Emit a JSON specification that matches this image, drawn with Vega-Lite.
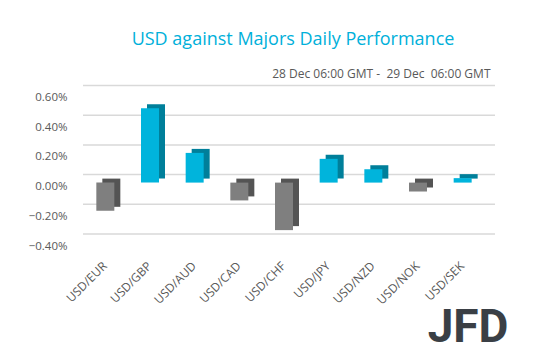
{
  "$schema": "https://vega.github.io/schema/vega-lite/v6.json",
  "autosize": "none",
  "width": 402,
  "height": 148.5,
  "padding": {"left": 83, "top": 93.5, "right": 53, "bottom": 109},
  "background": "white",
  "config": {"view": {"stroke": null}, "font": "Open Sans", "axis": {"labelOverlap": false}},
  "title": {
    "text": "USD against Majors Daily Performance",
    "anchor": "middle",
    "dx": 9,
    "color": "#00B0DA",
    "fontSize": 18,
    "fontWeight": "normal",
    "font": "Open Sans",
    "baseline": "alphabetic",
    "offset": 5
  },
  "datasets": {
    "fx": [
      {"pair": "USD/EUR", "change": -0.0019},
      {"pair": "USD/GBP", "change": 0.005},
      {"pair": "USD/AUD", "change": 0.002},
      {"pair": "USD/CAD", "change": -0.0012},
      {"pair": "USD/CHF", "change": -0.0032},
      {"pair": "USD/JPY", "change": 0.0016},
      {"pair": "USD/NZD", "change": 0.0009},
      {"pair": "USD/NOK", "change": -0.0006},
      {"pair": "USD/SEK", "change": 0.0003}
    ],
    "grid": [
      {"level": -0.004},
      {"level": -0.002},
      {"level": 0},
      {"level": 0.002},
      {"level": 0.004},
      {"level": 0.006}
    ]
  },
  "layer": [
    {
      "data": {"name": "grid"},
      "mark": {"type": "rule", "xOffset": 10, "x2Offset": 10, "yOffset": -8, "color": "#d9d9d9", "strokeWidth": 1.5},
      "encoding": {
        "y": {
          "field": "level", "type": "quantitative", "scale": {"domain": [-0.004, 0.006], "nice": false, "zero": false},
          "axis": {
            "values": [-0.004, -0.002, 0, 0.002, 0.004, 0.006], "format": ".2%", "labelColor": "#595959",
            "labelFontSize": 11.5, "labelPadding": 16, "labelOffset": 4, "labelOverlap": false, "ticks": false, "domain": false,
            "grid": false, "title": null
          }
        }
      }
    },
    {
      "data": {"name": "fx"},
      "mark": {"type": "bar", "size": 18, "xOffset": 6, "yOffset": -4, "y2Offset": -4},
      "encoding": {
        "x": {
          "field": "pair", "type": "nominal", "sort": null,
          "axis": {
            "orient": "top", "labels": false, "ticks": false, "domain": false, "grid": false,
            "title": "28 Dec 06:00 GMT -\u00a0 29 Dec\u00a0 06:00 GMT",
            "titleFont": "Open Sans", "titleFontSize": 12, "titleFontWeight": "normal", "titleColor": "#595959",
            "titleAlign": "right", "titleBaseline": "alphabetic", "titleX": 407, "titleY": -16
          }
        },
        "y": {
          "field": "change", "type": "quantitative",
          "axis": {
            "values": [-0.004, -0.002, 0, 0.002, 0.004, 0.006], "format": ".2%", "labelColor": "#595959",
            "labelFontSize": 11.5, "labelPadding": 16, "labelOffset": 4, "labelOverlap": false, "ticks": false, "domain": false,
            "grid": false, "title": null
          }
        },
        "color": {"condition": {"test": "datum.change > 0", "value": "#007F9A"}, "value": "#545454"}
      }
    },
    {
      "data": {"name": "fx"},
      "mark": {"type": "bar", "size": 18},
      "encoding": {
        "x": {
          "field": "pair", "type": "nominal", "sort": null,
          "axis": {
            "orient": "bottom", "labelAngle": -45, "labelColor": "#595959", "labelFontSize": 12,
            "labelPadding": 18, "labelOffset": -4, "ticks": false, "domain": false, "grid": false,
            "title": "JFD", "titleFont": "Roboto", "titleFontSize": 46, "titleFontWeight": "bold",
            "titleColor": "#3A3F45", "titleAlign": "right", "titleBaseline": "alphabetic", "titleX": 425, "titleY": 99
          }
        },
        "y": {
          "field": "change", "type": "quantitative",
          "axis": {
            "values": [-0.004, -0.002, 0, 0.002, 0.004, 0.006], "format": ".2%", "labelColor": "#595959",
            "labelFontSize": 11.5, "labelPadding": 16, "labelOffset": 4, "labelOverlap": false, "ticks": false, "domain": false,
            "grid": false, "title": null
          }
        },
        "color": {"condition": {"test": "datum.change > 0", "value": "#00B4DC"}, "value": "#7F7F7F"}
      }
    }
  ],
  "resolve": {"axis": {"x": "independent"}}
}
